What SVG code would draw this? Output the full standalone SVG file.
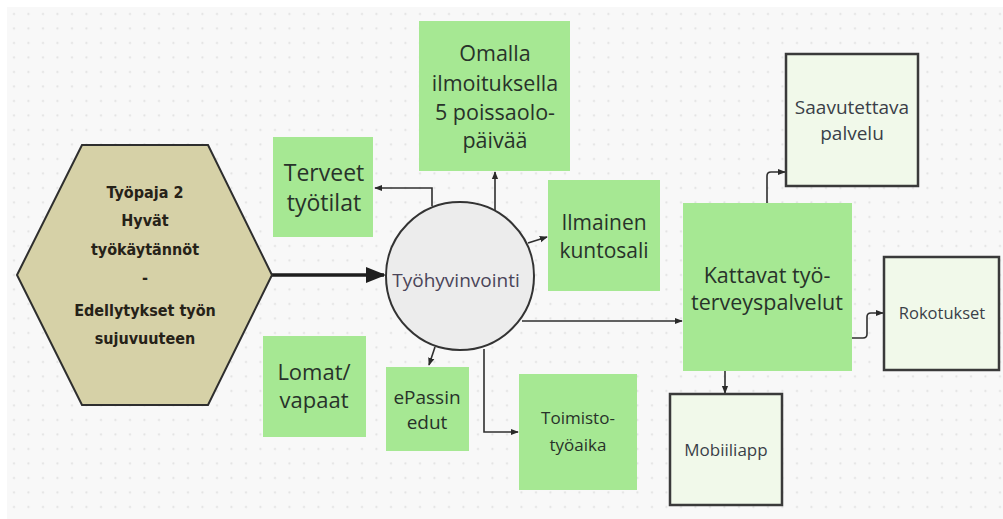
<svg xmlns="http://www.w3.org/2000/svg" width="1003" height="519" viewBox="0 0 1003 519">
  <defs>
    <pattern id="dots" x="7" y="7" width="14.5" height="14.5" patternUnits="userSpaceOnUse">
      <circle cx="7" cy="7" r="1.1" fill="#e2e2e2"/>
    </pattern>
    <marker id="arr" viewBox="0 0 10 10" refX="9" refY="5" markerWidth="8" markerHeight="8" markerUnits="userSpaceOnUse" orient="auto">
      <path d="M0,1 L10,5 L0,9 Z" fill="#2a2a2a"/>
    </marker>
    <marker id="arrBig" viewBox="0 0 10 10" refX="9" refY="5" markerWidth="20" markerHeight="20" markerUnits="userSpaceOnUse" orient="auto">
      <path d="M0,1 L10,5 L0,9 Z" fill="#1e1e1e"/>
    </marker>
  </defs>
  <style>
    .green { fill: #a6e893; }
    .pale { fill: #f1f9ea; stroke: #3a3a3a; stroke-width: 2.5; }
    .t { font-family: "Open Sans", "Liberation Sans", sans-serif; fill: #28322a; text-anchor: middle; font-size: 21.5px; }
    .small { fill: #3a3f48; }
    .hex { font-family: "DejaVu Sans Condensed", "Liberation Sans", sans-serif; font-weight: bold; font-size: 16px; fill: #262218; text-anchor: middle; }
    .conn { fill: none; stroke: #2f2f2f; stroke-width: 1.6; marker-end: url(#arr); }
  </style>

  <!-- canvas -->
  <rect width="1003" height="519" fill="#ffffff"/>
  <rect x="7" y="7" width="996" height="512" fill="#f8f8f8"/>
  <rect x="7" y="7" width="996" height="512" fill="url(#dots)"/>

  <!-- connectors -->
  <g id="connectors">
    <path d="M272,275 H384" fill="none" stroke="#1e1e1e" stroke-width="3.5" marker-end="url(#arrBig)"/>
    <path class="conn" d="M432,206 V188 H375"/>
    <path class="conn" d="M495,211 V172"/>
    <path class="conn" d="M528,243 L547,237"/>
    <path class="conn" d="M522,321 H682"/>
    <path class="conn" d="M435,347 L429,365"/>
    <path class="conn" d="M484,349 V432 H518"/>
    <path class="conn" d="M767,203 V176 Q767,172 771,172 H785"/>
    <path class="conn" d="M852,338 H863 Q867,338 867,334 V317 Q867,313 871,313 H883"/>
    <path class="conn" d="M725,371 V393"/>
  </g>

  <!-- source hexagon -->
  <g id="node-tyopaja">
    <polygon points="17,275 82,145 208,145 272,275 208,405 82,405" fill="#d6d1a7" stroke="#2e2e2e" stroke-width="2"/>
    <text class="hex" x="145" y="198">Työpaja 2</text>
    <text class="hex" x="145" y="226">Hyvät</text>
    <text class="hex" x="145" y="255">työkäytännöt</text>
    <text class="hex" x="145" y="283">-</text>
    <text class="hex" x="145" y="316">Edellytykset työn</text>
    <text class="hex" x="145" y="344">sujuvuuteen</text>
  </g>

  <!-- hub -->
  <g id="node-tyohyvinvointi">
    <circle cx="460" cy="276" r="74" fill="#ececec" stroke="#333333" stroke-width="2"/>
    <text class="t" x="456" y="287" style="font-size:19px;fill:#4a4458">Työhyvinvointi</text>
  </g>

  <g id="node-terveet">
    <rect class="green" x="273" y="137" width="100" height="100"/>
    <text class="t" x="324" y="181" style="font-size:23px">Terveet</text>
    <text class="t" x="324" y="211" style="font-size:23px">työtilat</text>
  </g>

  <g id="node-omalla">
    <rect class="green" x="419" y="21" width="151" height="150"/>
    <text class="t" x="495" y="61">Omalla</text>
    <text class="t" x="495" y="91">ilmoituksella</text>
    <text class="t" x="495" y="120">5 poissaolo-</text>
    <text class="t" x="495" y="148">päivää</text>
  </g>

  <g id="node-kuntosali">
    <rect class="green" x="548" y="180" width="112" height="111"/>
    <text class="t" x="604" y="230" style="font-size:21px">Ilmainen</text>
    <text class="t" x="604" y="258" style="font-size:21px">kuntosali</text>
  </g>

  <g id="node-lomat">
    <rect class="green" x="263" y="336" width="103" height="101"/>
    <text class="t" x="314" y="380" style="font-size:22px">Lomat/</text>
    <text class="t" x="314" y="408" style="font-size:22px">vapaat</text>
  </g>

  <g id="node-epassi">
    <rect class="green" x="386" y="367" width="83" height="84"/>
    <text class="t" x="427" y="404" style="font-size:19px">ePassin</text>
    <text class="t" x="427" y="429" style="font-size:19px">edut</text>
  </g>

  <g id="node-toimisto">
    <rect class="green" x="519" y="374" width="118" height="116"/>
    <text class="t" x="578" y="424" style="font-size:17px">Toimisto-</text>
    <text class="t" x="578" y="451" style="font-size:17px">työaika</text>
  </g>

  <g id="node-kattavat">
    <rect class="green" x="683" y="203" width="169" height="168"/>
    <text class="t" x="767" y="283">Kattavat työ-</text>
    <text class="t" x="767" y="310">terveyspalvelut</text>
  </g>

  <g id="node-saavutettava">
    <rect class="pale" x="786" y="54" width="132" height="132"/>
    <text class="t small" x="852" y="114" style="font-size:19px">Saavutettava</text>
    <text class="t small" x="852" y="140" style="font-size:19px">palvelu</text>
  </g>

  <g id="node-rokotukset">
    <rect class="pale" x="884" y="257" width="115" height="113"/>
    <text class="t small" x="942" y="319" style="font-size:16.5px">Rokotukset</text>
  </g>

  <g id="node-mobiiliapp">
    <rect class="pale" x="670" y="394" width="112" height="111"/>
    <text class="t small" x="726" y="456" style="font-size:17px">Mobiiliapp</text>
  </g>
</svg>
